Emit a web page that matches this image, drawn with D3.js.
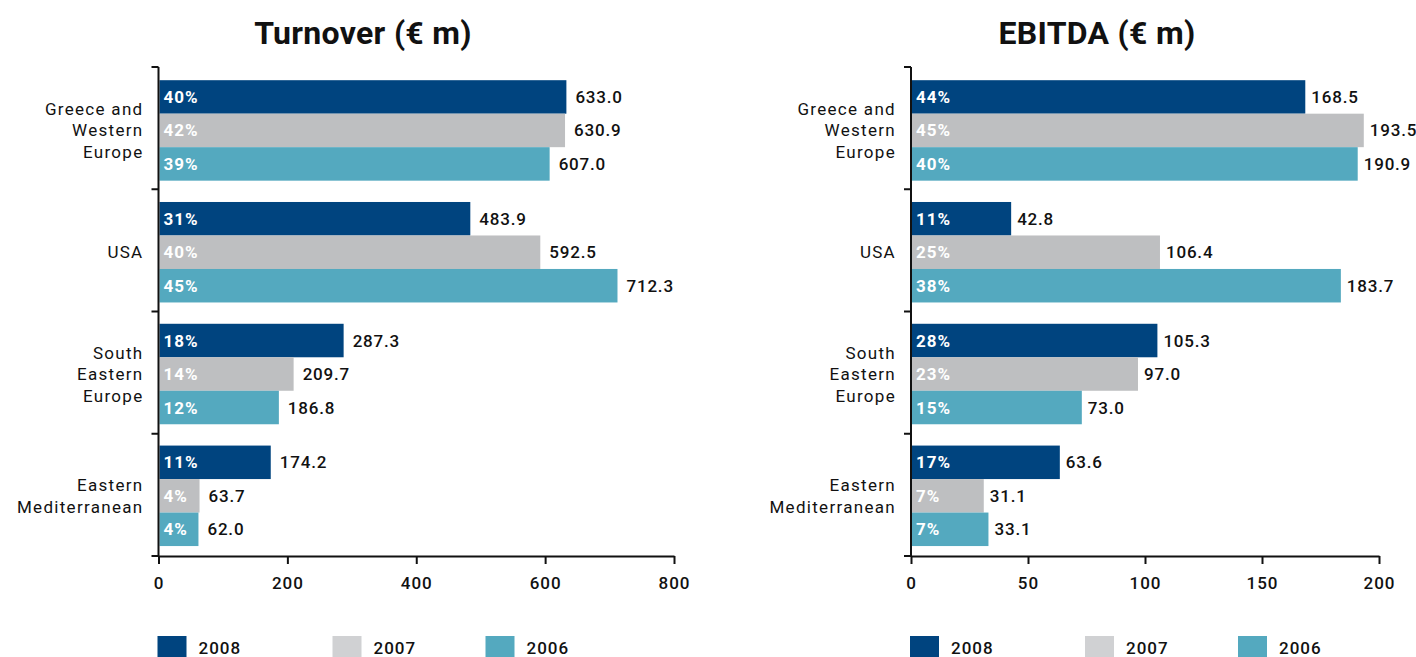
<!DOCTYPE html>
<html>
<head>
<meta charset="utf-8">
<script src="https://cdn.jsdelivr.net/npm/d3@7"></script>
<style>
  html, body { margin: 0; padding: 0; background: #ffffff; }
  svg { display: block; font-family: Roboto, "DejaVu Sans", sans-serif; }
</style>
</head>
<body>
<svg id="chart" width="1416" height="657"></svg>
<script>
// ---------- data ----------
const categories = [
  ["Greece and", "Western", "Europe"],
  ["USA"],
  ["South", "Eastern", "Europe"],
  ["Eastern", "Mediterranean"]
];
const years = ["2008", "2007", "2006"];

const turnover2008 = [633.0, 483.9, 287.3, 174.2];
const turnover2007 = [630.9, 592.5, 209.7, 63.7];
const turnover2006 = [607.0, 712.3, 186.8, 62.0];
const turnoverShare2008 = ["40%", "31%", "18%", "11%"];
const turnoverShare2007 = ["42%", "40%", "14%", "4%"];
const turnoverShare2006 = ["39%", "45%", "12%", "4%"];
const turnoverTicks = [0, 200, 400, 600, 800];

const ebitda2008 = [168.5, 42.8, 105.3, 63.6];
const ebitda2007 = [193.5, 106.4, 97.0, 31.1];
const ebitda2006 = [190.9, 183.7, 73.0, 33.1];
const ebitdaShare2008 = ["44%", "11%", "28%", "17%"];
const ebitdaShare2007 = ["45%", "25%", "23%", "7%"];
const ebitdaShare2006 = ["40%", "38%", "15%", "7%"];
const ebitdaTicks = [0, 50, 100, 150, 200];

// ---------- styles ----------
const barColors = ["#00447f", "#bebfc1", "#54a9bf"];
const legendColors = ["#00447f", "#d0d1d3", "#54a9bf"];
const ink = "#111111";

const panels = [
  {
    title: "Turnover (\u20ac m)", titleX: 363,
    x0: 158.5, x1: 674, labelGap: 9,
    series: [turnover2008, turnover2007, turnover2006],
    shares: [turnoverShare2008, turnoverShare2007, turnoverShare2006],
    ticks: turnoverTicks
  },
  {
    title: "EBITDA (\u20ac m)", titleX: 1097,
    x0: 911, x1: 1379, labelGap: 6,
    series: [ebitda2008, ebitda2007, ebitda2006],
    shares: [ebitdaShare2008, ebitdaShare2007, ebitdaShare2006],
    ticks: ebitdaTicks
  }
];

const svg = d3.select("#chart");
const yTop = 67, yBottom = 556;

panels.forEach(p => {
  const g = svg.append("g");
  const idx = d3.range(categories.length);

  const x = d3.scaleLinear()
    .domain([p.ticks[0], p.ticks[p.ticks.length - 1]])
    .range([p.x0, p.x1]);

  const y = d3.scaleBand()
    .domain(idx)
    .range([yTop, yBottom])
    .paddingInner(0.175)
    .paddingOuter(0.095)
    .align(0.57);

  const ySub = d3.scaleBand()
    .domain(d3.range(years.length))
    .range([0, y.bandwidth()])
    .padding(0);

  // title
  g.append("text")
    .attr("x", p.titleX)
    .attr("y", 44)
    .attr("text-anchor", "middle")
    .attr("font-size", 32)
    .attr("font-weight", 700)
    .attr("letter-spacing", 0.3)
    .attr("fill", ink)
    .text(p.title);

  // bars
  years.forEach((yr, s) => {
    const grp = g.append("g");
    grp.selectAll("rect")
      .data(idx)
      .join("rect")
      .attr("x", x(0) + 1)
      .attr("y", i => y(i) + ySub(s))
      .attr("width", i => x(p.series[s][i]) - x(0) - 1)
      .attr("height", ySub.bandwidth())
      .attr("fill", barColors[s]);

    // share labels inside
    grp.selectAll("text.share")
      .data(idx)
      .join("text")
      .attr("class", "share")
      .attr("x", x(0) + 5)
      .attr("y", i => y(i) + ySub(s) + ySub.bandwidth() / 2 + 6)
      .attr("font-size", 17)
      .attr("font-weight", 700)
      .attr("letter-spacing", 1.0)
      .attr("fill", "#ffffff")
      .text(i => p.shares[s][i]);

    // value labels
    grp.selectAll("text.val")
      .data(idx)
      .join("text")
      .attr("class", "val")
      .attr("x", i => x(p.series[s][i]) + p.labelGap)
      .attr("y", i => y(i) + ySub(s) + ySub.bandwidth() / 2 + 6)
      .attr("font-size", 17)
      .attr("font-weight", 500)
      .attr("letter-spacing", 0.8)
      .attr("fill", ink)
      .text(i => p.series[s][i].toFixed(1));
  });

  // y axis line + boundary ticks
  const n = categories.length;
  const bounds = d3.range(n + 1).map(k => yTop + k * (yBottom - yTop) / n);
  g.append("line")
    .attr("x1", x(0)).attr("x2", x(0))
    .attr("y1", yTop).attr("y2", yBottom)
    .attr("stroke", ink).attr("stroke-width", 2);
  g.selectAll("line.ytick")
    .data(bounds)
    .join("line")
    .attr("class", "ytick")
    .attr("x1", x(0) - 7).attr("x2", x(0))
    .attr("y1", d => d).attr("y2", d => d)
    .attr("stroke", ink).attr("stroke-width", 2);

  // category labels
  const lineH = 21.5;
  const cat = g.selectAll("text.cat")
    .data(idx)
    .join("text")
    .attr("class", "cat")
    .attr("text-anchor", "end")
    .attr("font-size", 17)
    .attr("letter-spacing", 1.3)
    .attr("fill", ink);
  cat.each(function(i) {
    const lines = categories[i];
    const cy = y(i) + y.bandwidth() / 2;
    const first = cy - (lines.length - 1) * lineH / 2 + 6;
    d3.select(this).selectAll("tspan")
      .data(lines)
      .join("tspan")
      .attr("x", x(0) - 15)
      .attr("y", (d, k) => first + k * lineH)
      .text(d => d);
  });

  // x axis
  const xAxis = d3.axisBottom(x)
    .tickValues(p.ticks)
    .tickSize(8)
    .tickSizeOuter(0)
    .tickPadding(13)
    .tickFormat(d3.format("d"));
  const ax = g.append("g")
    .attr("transform", `translate(0,${yBottom})`)
    .call(xAxis);
  ax.select(".domain").attr("stroke", ink).attr("stroke-width", 2);
  ax.selectAll(".tick line").attr("stroke", ink).attr("stroke-width", 2);
  ax.selectAll(".tick text")
    .attr("fill", ink)
    .attr("font-size", 17)
    .attr("font-weight", 500)
    .attr("letter-spacing", 1.0)
    .attr("font-family", "Roboto, 'DejaVu Sans', sans-serif");

  // legend
  const legSq = [-1, 174, 327];
  const legTx = [40, 215, 368];
  const lg = g.append("g");
  years.forEach((yr, s) => {
    lg.append("rect")
      .attr("x", x(0) + legSq[s])
      .attr("y", 636)
      .attr("width", 29)
      .attr("height", 24)
      .attr("fill", legendColors[s]);
    lg.append("text")
      .attr("x", x(0) + legTx[s])
      .attr("y", 654)
      .attr("font-size", 17)
      .attr("font-weight", 500)
      .attr("letter-spacing", 1.0)
      .attr("fill", ink)
      .text(yr);
  });
});
</script>
</body>
</html>
